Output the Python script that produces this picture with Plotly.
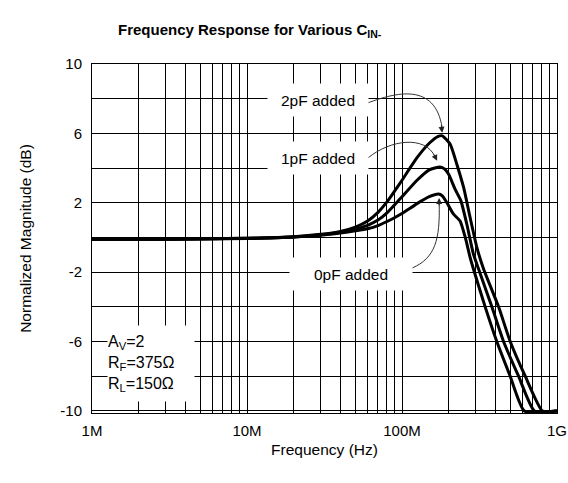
import plotly.graph_objects as go

# ---- data (frequency in MHz, magnitude in dB) ----
f_0pF = [1, 3, 10, 20, 30, 40, 50, 60, 70, 80, 90, 100, 125, 150, 172, 182, 195, 215, 237, 256, 275, 289, 344, 409, 499, 615, 1000]
db_0pF = [-0.1, -0.1, -0.06, 0.02, 0.12, 0.25, 0.38, 0.5, 0.68, 0.92, 1.15, 1.38, 1.95, 2.35, 2.5, 2.4, 2.0, 1.34, 0.95, 0.0, -1.15, -1.82, -4.0, -6.0, -8.0, -10.0, -10.0]

f_1pF = [1, 3, 10, 20, 30, 40, 50, 60, 70, 80, 90, 100, 125, 150, 176, 188, 200, 220, 240, 262, 289, 312, 380, 452, 565, 715, 1000]
db_1pF = [-0.1, -0.1, -0.05, 0.03, 0.15, 0.3, 0.48, 0.7, 1.0, 1.42, 1.9, 2.35, 3.3, 3.9, 4.06, 3.95, 3.64, 2.78, 2.11, 0.76, -0.96, -1.82, -4.0, -6.0, -8.0, -10.0, -10.0]

f_2pF = [1, 3, 10, 20, 30, 40, 50, 60, 70, 80, 90, 100, 125, 151, 170, 182, 205, 226, 250, 275, 304, 336, 420, 499, 624, 805, 1000]
db_2pF = [-0.1, -0.1, -0.05, 0.04, 0.18, 0.35, 0.6, 0.95, 1.45, 2.05, 2.7, 3.3, 4.6, 5.46, 5.82, 5.86, 5.36, 4.21, 2.87, 1.15, -0.57, -1.82, -4.0, -6.0, -8.0, -10.0, -10.0]

series_names = ["0pF added", "1pF added", "2pF added"]
x_tick_labels = {1e6: "1M", 1e7: "10M", 1e8: "100M", 1e9: "1G"}
y_tick_labels = [10, 6, 2, -2, -6, -10]

FONT = "Liberation Sans, Arial, Helvetica, sans-serif"

fig = go.Figure()
for f, db, name in zip([f_0pF, f_1pF, f_2pF], [db_0pF, db_1pF, db_2pF], series_names):
    fig.add_trace(go.Scatter(
        x=[v * 1e6 for v in f], y=db, mode="lines", name=name,
        line=dict(color="black", width=3, shape="spline", smoothing=0.5),
        cliponaxis=False, showlegend=False, hoverinfo="skip"))

# ticks / gridlines: every 1..9 per decade, every 2 dB
xtv, xtt = [], []
for dec in [1e6, 1e7, 1e8]:
    for m in range(1, 10):
        xtv.append(dec * m)
        xtt.append(x_tick_labels.get(dec * m, ""))
xtv.append(1e9)
xtt.append(x_tick_labels[1e9])
ytv = list(range(-10, 11, 2))
ytt = [str(v) if v in y_tick_labels else "" for v in ytv]

L, R, T, B = 92.3, 556.7, 64.3, 412.7
W, H = 568, 483


def px(x):
    return (x - L) / (R - L)


def py(y):
    return (B - y) / (B - T)


fig.update_layout(
    width=W, height=H,
    margin=dict(l=L, r=W - R, t=T, b=H - B, pad=0),
    paper_bgcolor="white", plot_bgcolor="white",
    title=dict(text="Frequency Response for Various C<sub>IN-</sub>",
               font=dict(family=FONT, size=15, color="black", weight="bold"),
               x=118 / W, xanchor="left", xref="container",
               y=1 - 30 / H, yanchor="middle", yref="container", automargin=False),
    xaxis=dict(type="log", range=[6, 9], tickvals=xtv, ticktext=xtt,
               showgrid=True, gridcolor="black", gridwidth=1,
               showline=True, linecolor="black", linewidth=1, mirror=True,
               ticks="", ticklabelstandoff=4, automargin=False,
               tickfont=dict(family=FONT, size=15, color="black"),
               title=dict(text="Frequency (Hz)", standoff=6,
                          font=dict(family=FONT, size=15.5, color="black")),
               zeroline=False),
    yaxis=dict(range=[-10.12, 10], tickvals=ytv, ticktext=ytt,
               showgrid=True, gridcolor="black", gridwidth=1,
               showline=True, linecolor="black", linewidth=1, mirror=True,
               ticks="", ticklabelstandoff=6, automargin=False,
               tickfont=dict(family=FONT, size=15, color="black"),
               title=dict(text="Normalized Magnitude (dB)", standoff=24,
                          font=dict(family=FONT, size=15.5, color="black")),
               zeroline=False),
)

# label boxes (white background hides gridlines)
boxes = [
    ("2pF added", 318, 100, 100, 32),
    ("1pF added", 318, 158, 100, 32),
    ("0pF added", 351, 274, 122, 32),
]
for txt, cx, cy, w, h in boxes:
    fig.add_annotation(text=txt, xref="paper", yref="paper", x=px(cx), y=py(cy),
                       xanchor="center", yanchor="middle", showarrow=False,
                       width=w, height=h, bgcolor="white", borderpad=0,
                       font=dict(family=FONT, size=15.5, color="black"))

fig.add_annotation(text="A<sub>V</sub>=2<br>R<sub>F</sub>=375Ω<br>R<sub>L</sub>=150Ω",
                   xref="paper", yref="paper", x=px(107), y=py(363),
                   xanchor="left", yanchor="middle", showarrow=False, align="left",
                   width=86, height=75, bgcolor="white", borderpad=0,
                   font=dict(family=FONT, size=16, color="black"))


def bez(p0, c1, c2, p1):
    pts = [p0, c1, c2, p1]
    s = "M {:.4f},{:.4f}".format(px(pts[0][0]), py(pts[0][1]))
    s += " C " + " ".join("{:.4f},{:.4f}".format(px(x), py(y)) for x, y in pts[1:])
    return s


arrows = [
    ((368, 103), (395, 93), (435, 82), (442, 128), (442, 133), -1, -9),
    ((368, 158), (390, 140), (425, 135), (435, 157), (437, 161), -4, -8),
    ((412, 268), (435, 258), (440, 240), (439, 203), (439, 198), 0, 9),
]
for p0, c1, c2, p1, tip, ax, ay in arrows:
    fig.add_shape(type="path", xref="paper", yref="paper", path=bez(p0, c1, c2, p1),
                  line=dict(color="#333333", width=1))
    fig.add_annotation(text="", xref="paper", yref="paper", x=px(tip[0]), y=py(tip[1]),
                       ax=ax, ay=ay, showarrow=True, arrowhead=2, arrowsize=1.2,
                       arrowwidth=1, arrowcolor="#222222")

fig.write_html("out.html", config={"displayModeBar": False},
               post_script="document.body.style.margin='0px';")
